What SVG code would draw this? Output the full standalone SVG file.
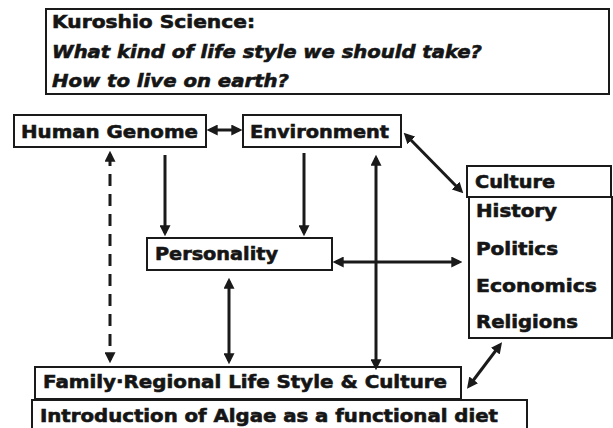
<svg xmlns="http://www.w3.org/2000/svg" width="613" height="428" viewBox="0 0 613 428">
<style>
.box{fill:#fff;stroke:#1a1a1a;stroke-width:2}
.t{font-family:"DejaVu Sans","Liberation Sans",sans-serif;font-weight:bold;font-size:18px;fill:#151515;stroke:#151515;stroke-width:0.6}
.ti{font-family:"DejaVu Sans","Liberation Sans",sans-serif;font-weight:bold;font-style:italic;font-size:18px;fill:#151515;stroke:#151515;stroke-width:0.6}
.c{stroke:#1a1a1a;stroke-width:3;fill:none}
.d{stroke-dasharray:12 8}
</style>
<defs>
<marker id="ah" viewBox="0 0 10 10" refX="7" refY="5" markerWidth="11" markerHeight="11" markerUnits="userSpaceOnUse" orient="auto-start-reverse">
<path d="M0,0 L10,5 L0,10 z" fill="#1a1a1a"/>
</marker>
</defs>
<rect width="613" height="428" fill="#fff"/>
<g id="title">
<rect class="box" x="46" y="9" width="563" height="85"/>
<text class="t" x="52" y="28" textLength="203" lengthAdjust="spacingAndGlyphs">Kuroshio Science:</text>
<text class="ti" x="52" y="58" textLength="430" lengthAdjust="spacingAndGlyphs">What kind of life style we should take?</text>
<text class="ti" x="52" y="87" textLength="237" lengthAdjust="spacingAndGlyphs">How to live on earth?</text>
</g>
<g id="human-genome">
<rect class="box" x="14" y="115" width="192" height="32"/>
<text class="t" x="21" y="138" textLength="177" lengthAdjust="spacingAndGlyphs">Human Genome</text>
</g>
<g id="environment">
<rect class="box" x="243" y="115" width="158" height="32"/>
<text class="t" x="250" y="138" textLength="139" lengthAdjust="spacingAndGlyphs">Environment</text>
</g>
<g id="culture">
<rect class="box" x="467" y="166" width="144" height="31"/>
<text class="t" x="475" y="188" textLength="80" lengthAdjust="spacingAndGlyphs">Culture</text>
</g>
<g id="culture-list">
<rect class="box" x="469" y="197" width="143" height="141"/>
<text class="t" x="476" y="217" textLength="81" lengthAdjust="spacingAndGlyphs">History</text>
<text class="t" x="476" y="255" textLength="82" lengthAdjust="spacingAndGlyphs">Politics</text>
<text class="t" x="476" y="292" textLength="121" lengthAdjust="spacingAndGlyphs">Economics</text>
<text class="t" x="476" y="328" textLength="102" lengthAdjust="spacingAndGlyphs">Religions</text>
</g>
<g id="personality">
<rect class="box" x="147" y="238" width="185" height="32"/>
<text class="t" x="155" y="260" textLength="123" lengthAdjust="spacingAndGlyphs">Personality</text>
</g>
<g id="family">
<rect class="box" x="35" y="367" width="426" height="32"/>
<text class="t" x="43" y="388" textLength="404" lengthAdjust="spacingAndGlyphs">Family·Regional Life Style &amp; Culture</text>
</g>
<g id="introduction">
<rect class="box" x="32" y="400" width="495" height="32"/>
<text class="t" x="40" y="422" textLength="458" lengthAdjust="spacingAndGlyphs">Introduction of Algae as a functional diet</text>
</g>
<g id="connectors">
<line class="c" x1="210" y1="130" x2="239" y2="130" marker-start="url(#ah)" marker-end="url(#ah)"/>
<line class="c d" x1="110" y1="154" x2="110" y2="360" marker-start="url(#ah)" marker-end="url(#ah)"/>
<line class="c" x1="165" y1="155" x2="165" y2="233" marker-end="url(#ah)"/>
<line class="c" x1="304" y1="153" x2="304" y2="233" marker-end="url(#ah)"/>
<line class="c" x1="376" y1="158" x2="376" y2="367" marker-start="url(#ah)" marker-end="url(#ah)"/>
<line class="c" x1="406" y1="135" x2="461" y2="191" marker-start="url(#ah)" marker-end="url(#ah)"/>
<line class="c" x1="336" y1="262" x2="459" y2="262" marker-start="url(#ah)" marker-end="url(#ah)"/>
<line class="c" x1="229" y1="281" x2="229" y2="361" marker-start="url(#ah)" marker-end="url(#ah)"/>
<line class="c" x1="469" y1="386" x2="500" y2="345" marker-start="url(#ah)" marker-end="url(#ah)"/>
</g>
</svg>
